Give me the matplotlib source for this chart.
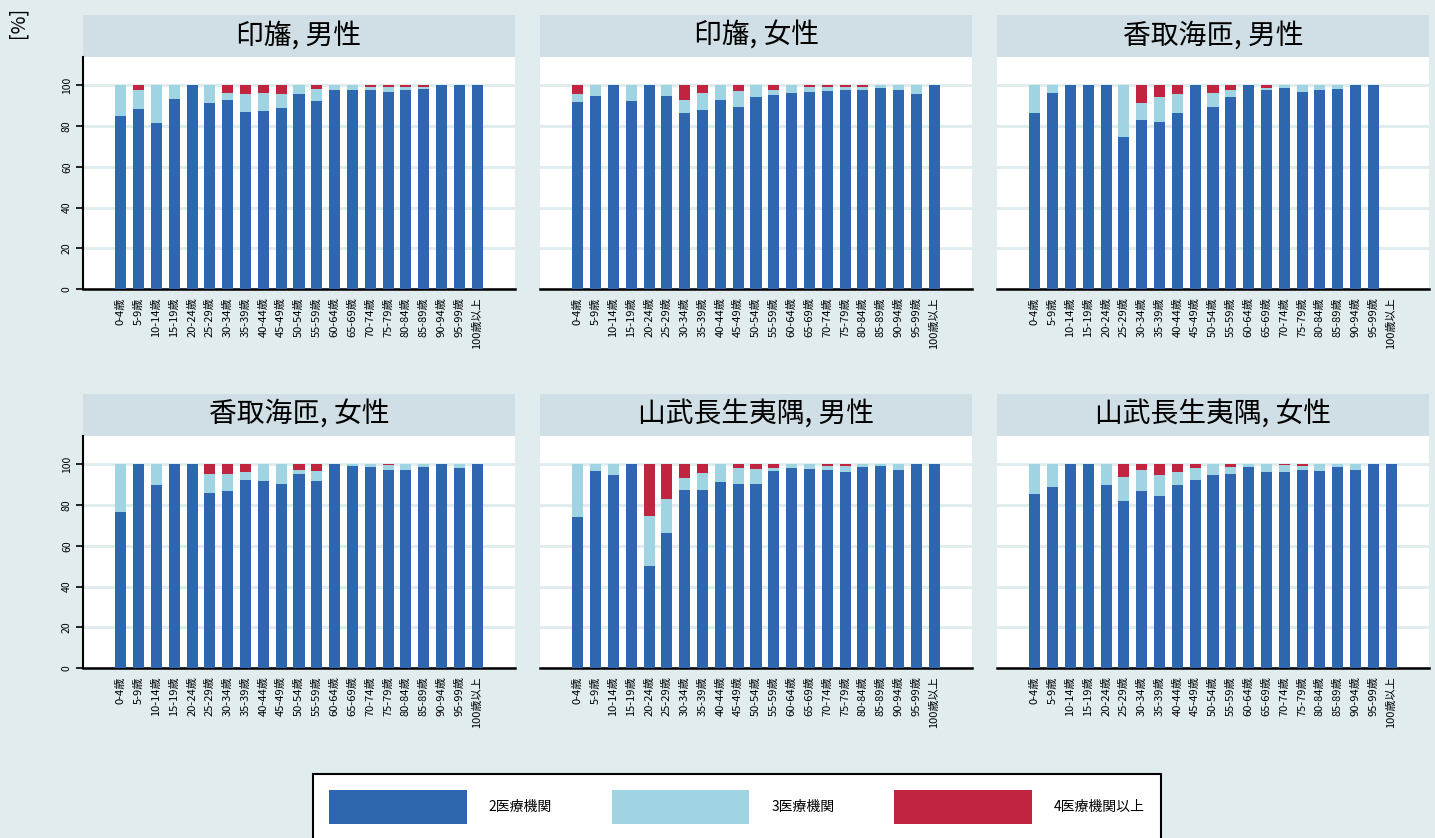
import matplotlib.pyplot as plt
from matplotlib.patches import Rectangle

plt.rcParams['font.family'] = ['Noto Sans CJK JP', 'DejaVu Sans']

# ---- dados (percentual por faixa etaria) ----
ages = ["0-4歳", "5-9歳", "10-14歳", "15-19歳", "20-24歳", "25-29歳", "30-34歳",
        "35-39歳", "40-44歳", "45-49歳", "50-54歳", "55-59歳", "60-64歳", "65-69歳",
        "70-74歳", "75-79歳", "80-84歳", "85-89歳", "90-94歳", "95-99歳", "100歳以上"]
series_names = ["2医療機関", "3医療機関", "4医療機関以上"]
panel_titles = ["印旛, 男性", "印旛, 女性", "香取海匝, 男性",
                "香取海匝, 女性", "山武長生夷隅, 男性", "山武長生夷隅, 女性"]

inba_m_2 = [85.2, 88.5, 81.7, 93.3, 100, 91.6, 93.1, 86.8, 87.5, 89.1, 95.7,
            92.6, 97.7, 97.7, 98.0, 97.0, 97.7, 98.5, 100, 100, 100]
inba_m_3 = [14.8, 9.5, 18.3, 6.7, 0, 8.4, 3.4, 8.9, 9.0, 6.6, 4.3,
            5.9, 2.3, 2.3, 1.5, 2.5, 1.6, 0.8, 0, 0, 0]
inba_m_4 = [0, 2.0, 0, 0, 0, 0, 3.5, 4.3, 3.5, 4.3, 0,
            1.5, 0, 0, 0.5, 0.5, 0.7, 0.7, 0, 0, 0]

inba_f_2 = [91.8, 94.6, 100, 92.6, 100, 94.6, 86.5, 88.2, 93.1, 89.6, 94.1,
            95.1, 96.5, 97.0, 97.5, 97.9, 97.9, 99.0, 98.0, 95.7, 100]
inba_f_3 = [3.9, 5.4, 0, 7.4, 0, 5.4, 6.6, 8.2, 6.9, 7.9, 5.9,
            2.9, 3.5, 2.5, 2.0, 1.6, 1.6, 1.0, 2.0, 4.3, 0]
inba_f_4 = [4.3, 0, 0, 0, 0, 0, 6.9, 3.6, 0, 2.5, 0,
            2.0, 0, 0.5, 0.5, 0.5, 0.5, 0, 0, 0, 0]

katori_m_2 = [86.7, 96.5, 100, 100, 100, 74.8, 83.2, 82.2, 86.7, 100, 89.6,
              94.1, 100, 98.0, 99.0, 97.0, 98.0, 98.5, 100, 100, 0]
katori_m_3 = [13.3, 3.5, 0, 0, 0, 25.2, 8.4, 11.9, 9.0, 0, 6.9,
              3.9, 0, 1.0, 1.0, 3.0, 2.0, 1.5, 0, 0, 0]
katori_m_4 = [0, 0, 0, 0, 0, 0, 8.4, 5.9, 4.3, 0, 3.5,
              2.0, 0, 1.0, 0, 0, 0, 0, 0, 0, 0]

katori_f_2 = [76.7, 100, 89.7, 100, 100, 86.0, 86.9, 92.3, 91.8, 90.3, 95.4,
              91.8, 100, 99.2, 98.7, 97.2, 97.2, 98.7, 100, 98.2, 100]
katori_f_3 = [23.3, 0, 10.3, 0, 0, 9.4, 8.5, 3.8, 8.2, 9.7, 1.8,
              4.8, 0, 0.8, 1.3, 2.5, 2.8, 1.3, 0, 1.8, 0]
katori_f_4 = [0, 0, 0, 0, 0, 4.6, 4.6, 3.9, 0, 0, 2.8,
              3.4, 0, 0, 0, 0.3, 0, 0, 0, 0, 0]

sanbu_m_2 = [74.1, 96.7, 94.7, 100, 49.9, 66.5, 87.4, 87.4, 91.3, 90.3, 90.3,
             96.7, 98.2, 97.7, 97.2, 96.2, 98.7, 99.2, 97.2, 100, 100]
sanbu_m_3 = [25.9, 3.3, 5.3, 0, 24.6, 16.6, 5.9, 8.5, 8.7, 7.9, 7.4,
             1.5, 1.8, 2.3, 2.0, 3.0, 1.3, 0.8, 2.8, 0, 0]
sanbu_m_4 = [0, 0, 0, 0, 25.5, 16.9, 6.7, 4.1, 0, 1.8, 2.3,
             1.8, 0, 0, 0.8, 0.8, 0, 0, 0, 0, 0]

sanbu_f_2 = [85.4, 88.8, 100, 100, 89.7, 81.9, 86.9, 84.4, 89.7, 92.3, 94.7,
             95.2, 98.7, 96.2, 96.2, 97.2, 96.7, 98.7, 97.2, 100, 100]
sanbu_f_3 = [14.6, 11.2, 0, 0, 10.3, 11.9, 10.3, 10.5, 6.7, 5.9, 5.3,
             3.5, 1.3, 3.8, 3.5, 2.1, 3.3, 1.3, 2.8, 0, 0]
sanbu_f_4 = [0, 0, 0, 0, 0, 6.2, 2.8, 5.1, 3.6, 1.8, 0,
             1.3, 0, 0, 0.3, 0.7, 0, 0, 0, 0, 0]

panels = [(inba_m_2, inba_m_3, inba_m_4), (inba_f_2, inba_f_3, inba_f_4),
          (katori_m_2, katori_m_3, katori_m_4), (katori_f_2, katori_f_3, katori_f_4),
          (sanbu_m_2, sanbu_m_3, sanbu_m_4), (sanbu_f_2, sanbu_f_3, sanbu_f_4)]

# ---- estilo ----
BG = "#e0ecee"
STRIP = "#cfdfe5"
GRID = "#e0ecee"
colors = ["#2e66b0", "#a0d4e2", "#c0243f"]

W, H = 1435, 838
fig = plt.figure(figsize=(W / 100, H / 100), dpi=100, facecolor=BG)

col_x = [83, 540, 997]
ax_w = 432
row_bottom = [289, 668]
ax_h = 232
strip_h = 42

x = list(range(len(ages)))
handles = []
for i, (title, data) in enumerate(zip(panel_titles, panels)):
    r, c = divmod(i, 3)
    ax = fig.add_axes([col_x[c] / W, 1 - row_bottom[r] / H, ax_w / W, ax_h / H])
    ax.set_facecolor("white")
    bottom = [0] * len(ages)
    for vals, fc, name in zip(data, colors, series_names):
        b = ax.bar(x, vals, width=0.62, bottom=bottom, color=fc,
                   linewidth=0, zorder=3, label=name)
        bottom = [bb + v for bb, v in zip(bottom, vals)]
        if i == 0:
            handles.append(b)
    ax.set_xlim(-2.13, 22.13)
    ax.set_ylim(0, 114)
    ax.set_yticks([0, 20, 40, 60, 80, 100])
    ax.yaxis.grid(True, color=GRID, lw=2.2, zorder=0)
    ax.set_axisbelow(True)
    ax.set_xticks(x)
    ax.set_xticklabels(ages, rotation=90, fontsize=8)
    ax.tick_params(axis="x", length=0, pad=6)
    for s in ("top", "right"):
        ax.spines[s].set_visible(False)
    ax.spines["bottom"].set_linewidth(1.8)
    if c == 0:
        ax.spines["left"].set_linewidth(1.5)
        ax.tick_params(axis="y", length=5, width=1.2, labelsize=7.5, pad=3)
        for lab in ax.get_yticklabels():
            lab.set_rotation(90)
            lab.set_va("center")
    else:
        ax.spines["left"].set_visible(False)
        ax.tick_params(axis="y", length=0, labelleft=False)
    # faixa do titulo
    ax.add_patch(Rectangle((0, 1), 1, strip_h / ax_h, transform=ax.transAxes,
                           fc=STRIP, ec="none", clip_on=False, zorder=1))
    ax.text(0.5, 1 + strip_h / ax_h / 2, title, transform=ax.transAxes,
            ha="center", va="center", fontsize=20)

fig.text(18 / W, 1 - 22 / H, "[%]", rotation=90, ha="center", va="center",
         fontsize=14)

leg = fig.legend(handles=handles, labels=series_names, ncol=3,
                 loc="upper center", bbox_to_anchor=(737 / W, 1 - 767 / H),
                 fontsize=10, handlelength=9.9, handleheight=3.45,
                 handletextpad=1.6, columnspacing=4.3, borderpad=1.15,
                 frameon=True, fancybox=False, edgecolor="black",
                 framealpha=1)
leg.get_frame().set_linewidth(1.5)

fig.savefig("out.png", dpi=100, facecolor=BG)
